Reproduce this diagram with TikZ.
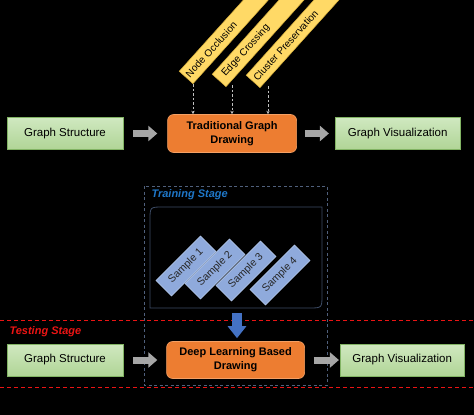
\documentclass[tikz,border=0pt]{standalone}
\usepackage{fontspec}
\setmainfont{Liberation Sans}
\usetikzlibrary{positioning,arrows.meta}
\definecolor{greentop}{RGB}{208,232,192}
\definecolor{greenbot}{RGB}{176,213,150}
\definecolor{greenline}{RGB}{130,180,100}
\definecolor{orangefill}{RGB}{237,125,49}
\definecolor{orangeline}{RGB}{245,160,100}
\definecolor{tagfill}{RGB}{255,217,102}
\definecolor{tagline}{RGB}{215,175,60}
\definecolor{samplefill}{RGB}{143,170,220}
\definecolor{sampleline}{RGB}{180,199,231}
\definecolor{arrowgray}{RGB}{166,166,166}
\definecolor{framegray}{RGB}{80,96,124}
\definecolor{poolline}{RGB}{60,75,100}
\definecolor{stageblue}{RGB}{31,119,200}
\definecolor{testred}{RGB}{235,20,20}
\definecolor{pushblue}{RGB}{68,114,196}
\begin{document}
\begin{tikzpicture}[x=1pt, y=-1pt,
    green node/.style={draw=greenline, line width=0.6pt, top color=greentop, bottom color=greenbot, minimum width=116pt, minimum height=32pt, inner sep=0pt, font=\fontsize{11.5}{13}\selectfont},
    orange node/.style={draw=orangeline, line width=0.6pt, fill=orangefill, rounded corners=6pt, align=center, inner sep=0pt, font=\fontsize{11}{14}\selectfont\bfseries},
    tag node/.style={draw=tagline, line width=0.5pt, fill=tagfill, rotate=48, anchor=south west, text width=118pt, align=left, minimum height=18.5pt, inner ysep=0pt, font=\fontsize{10}{12}\selectfont},
    sample node/.style={draw=sampleline, line width=0.5pt, fill=samplefill, rotate=45, minimum width=63pt, minimum height=22pt, inner sep=0pt, text={black!85}, font=\fontsize{10.5}{12}\selectfont},
    stage label/.style={anchor=west, font=\fontsize{11}{13}\selectfont\bfseries\itshape},
    gray arrow/.style={draw=arrowgray, line width=7pt, -{Triangle[width=15pt,length=9pt]}},
    hint arrow/.style={draw=black!25, line width=0.8pt, dash pattern=on 2.5pt off 2pt, -{Stealth[length=3.5pt,width=3.5pt]}}]
\tikzstyle{every node}=[font=\small]

\useasboundingbox (0,0) rectangle (474,415);
\clip (0,0) rectangle (474,415);
\fill[black] (0,0) rectangle (474,415);

\node[green node] (gs1) at (65,133.5) {Graph Structure};
\node[orange node, minimum width=129pt, minimum height=38pt, right=44pt of gs1] (tgd) {Traditional Graph\\Drawing};
\node[green node, minimum width=125pt, right=38pt of tgd] (gv1) {Graph Visualization};

\node[tag node, inner xsep=2pt] (occ) at (193,84) {Node Occlusion};
\node[tag node, inner xsep=7pt] (cross) at (226,87) {Edge Crossing};
\node[tag node, inner xsep=3pt] (clus) at (260,88) {Cluster Preservation};
\coordinate (c2) at (232,85);
\coordinate (c3) at (268,86);

\draw[gray arrow, shorten <=10pt, shorten >=10pt] (gs1) -- (tgd);
\draw[gray arrow, shorten <=8pt, shorten >=6pt] (tgd) -- (gv1);
\draw[hint arrow] (occ.south west) -- (occ.south west |- tgd.north);
\draw[hint arrow] (c2) -- (c2 |- tgd.north);
\draw[hint arrow] (c3) -- (c3 |- tgd.north);

\draw[framegray, line width=0.8pt, dash pattern=on 3pt off 2.5pt] (144,186) rectangle (327,385);
\node[stage label, text=stageblue] (train) at (148,195) {Training Stage};
\draw[poolline, line width=0.8pt] (150,308) -- (150,220) .. controls (150,207) .. (163,207) -- (322,207) -- (322,295) .. controls (322,308) .. (309,308) -- cycle;
\coordinate (pool) at (237,308);

\node[sample node] (s1) at (186,266) {Sample 1};
\node[sample node] (s2) at (215,269) {Sample 2};
\node[sample node] (s3) at (246,271) {Sample 3};
\node[sample node] (s4) at (280,275) {Sample 4};

\draw[testred, line width=1pt, dash pattern=on 4pt off 3pt] (0,320) -- (474,320);
\draw[testred, line width=1pt, dash pattern=on 4pt off 3pt] (0,387) -- (474,387);
\node[stage label, text=testred] (test) at (6,332) {Testing Stage};

\node[green node] (gs2) at (65,360) {Graph Structure};
\node[orange node, minimum width=138pt, minimum height=37pt, right=43pt of gs2] (dl) {Deep Learning Based\\Drawing};
\node[green node, minimum width=124pt, right=35pt of dl] (gv2) {Graph Visualization};

\draw[pushblue, line width=10pt, -{Triangle[width=18pt,length=12pt]}, shorten <=5pt, shorten >=3pt] (pool) -- (pool |- dl.north);
\draw[gray arrow, shorten <=10pt, shorten >=9pt] (gs2) -- (dl);
\draw[gray arrow, shorten <=9pt, shorten >=1pt] (dl) -- (gv2);

\end{tikzpicture}
\end{document}
